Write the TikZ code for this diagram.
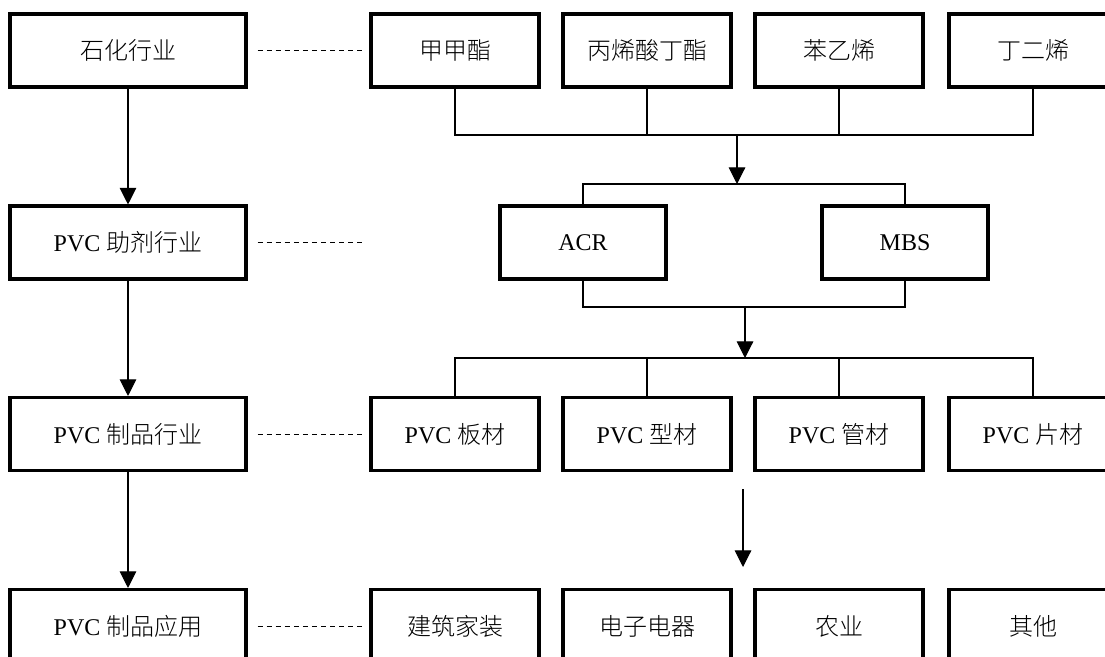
\documentclass[tikz,border=0pt]{standalone}
\usepackage{fontspec}
\setmainfont{Liberation Serif}
\newfontfamily\cjk{Noto Sans CJK SC}[UprightFont={* Light}]
\usetikzlibrary{arrows.meta}
\begin{document}
\begin{tikzpicture}[x=0.75pt,y=-0.75pt,
  box/.style={draw, line width=2.3pt, inner sep=0pt, minimum height=54.75pt,
              font=\fontsize{18}{21}\selectfont},
  lbox/.style={box, minimum width=177pt},
  rbox/.style={box, minimum width=126pt},
  mbox/.style={box, minimum width=124.5pt},
  conn/.style={line width=0.8pt},
  arr/.style={conn, -{Triangle[width=12.5pt,length=12.5pt]}},
  dashline/.style={line width=0.75pt, dash pattern=on 3.8pt off 3pt}]
\useasboundingbox (0,0) rectangle (1105,656);
\clip (0,0) rectangle (1105,656);
\fill[white] (0,0) rectangle (1105,656);
% left column
\node[lbox] (L1) at (128,50.5) {\cjk 石化行业};
\node[lbox] (L2) at (128,242.5) {PVC \cjk 助剂行业};
\node[lbox] (L3) at (128,434) {PVC \cjk 制品行业};
\node[lbox] (L4) at (128,626) {PVC \cjk 制品应用};
% row 1
\node[rbox] (A1) at (455,50.5) {\cjk 甲甲酯};
\node[rbox] (A2) at (647,50.5) {\cjk 丙烯酸丁酯};
\node[rbox] (A3) at (839,50.5) {\cjk 苯乙烯};
\node[rbox] (A4) at (1033,50.5) {\cjk 丁二烯};
% row 2
\node[mbox] (M1) at (583,242.5) {ACR};
\node[mbox] (M2) at (905,242.5) {MBS};
% row 3
\node[rbox] (P1) at (455,434) {PVC \cjk 板材};
\node[rbox] (P2) at (647,434) {PVC \cjk 型材};
\node[rbox] (P3) at (839,434) {PVC \cjk 管材};
\node[rbox] (P4) at (1033,434) {PVC \cjk 片材};
% row 4
\node[rbox] (U1) at (455,626) {\cjk 建筑家装};
\node[rbox] (U2) at (647,626) {\cjk 电子电器};
\node[rbox] (U3) at (839,626) {\cjk 农业};
\node[rbox] (U4) at (1033,626) {\cjk 其他};
% left arrows
\draw[arr] (L1.south) -- (L2.north);
\draw[arr] (L2.south) -- (L3.north);
\draw[arr] (L3.south) -- (L4.north);
% dashed links
\foreach \n in {L1,L2,L3,L4}
  \draw[dashline] ([xshift=7.5pt]\n.east) -- ++(105,0);
% bus 1
\coordinate (b1) at (737,135);
\coordinate (b2) at (737,184);
\draw[conn] (A1.south) -- (A1.south |- b1) -- (A4.south |- b1) -- (A4.south);
\draw[conn] (A2.south) -- (A2.south |- b1);
\draw[conn] (A3.south) -- (A3.south |- b1);
\draw[arr] (b1) -- (b2);
\draw[conn] (M1.north) -- (M1.north |- b2) -- (M2.north |- b2) -- (M2.north);
% bus 2
\coordinate (b3) at (745,307);
\coordinate (b4) at (745,358);
\draw[conn] (M1.south) -- (M1.south |- b3) -- (M2.south |- b3) -- (M2.south);
\draw[arr] (b3) -- (b4);
\draw[conn] (P1.north) -- (P1.north |- b4) -- (P4.north |- b4) -- (P4.north);
\draw[conn] (P2.north) -- (P2.north |- b4);
\draw[conn] (P3.north) -- (P3.north |- b4);
% last arrow
\coordinate (c1) at (743,489);
\coordinate (c2) at (743,567);
\draw[arr] (c1) -- (c2);
\end{tikzpicture}
\end{document}
